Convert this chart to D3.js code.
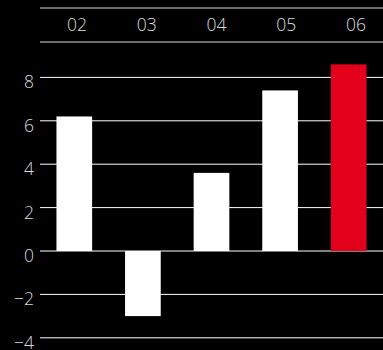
<!DOCTYPE html>
<html>
<head>
<meta charset="utf-8">
<script src="https://cdn.jsdelivr.net/npm/d3@7"></script>
<style>
  body { margin: 0; background: #000; }
  text { font-family: "Open Sans", sans-serif; font-size: 17.5px; font-weight: 300; fill: #dcdcdc; }
</style>
</head>
<body>
<div id="chart"></div>
<script>
// data
var years  = ["02", "03", "04", "05", "06"];
var values = [6.2, -3.0, 3.6, 7.4, 8.6];
var yTicks = [-4, -2, 0, 2, 4, 6, 8];
var highlight = "06";

var width = 383, height = 350;
var left = 40;

var svg = d3.select("#chart").append("svg")
  .attr("width", width)
  .attr("height", height)
  .style("background", "#000");

// Scales
var x = d3.scaleBand()
  .domain(years)
  .range([left, width])
  .paddingInner(0.48)
  .paddingOuter(0.24);

var y = d3.scaleLinear()
  .domain([-4, 8])
  .range([337.8, 77.4]);

// header labels sit a bit off the bar centres
var xLabel = d3.scalePoint()
  .domain(years)
  .range([77, 356]);

// Header lines
svg.append("line")
  .attr("x1", left).attr("x2", width)
  .attr("y1", 8).attr("y2", 8)
  .attr("stroke", "#d9d9d9");

svg.append("line")
  .attr("x1", left).attr("x2", width)
  .attr("y1", 42).attr("y2", 42)
  .attr("stroke", "#d9d9d9");

svg.selectAll(".year")
  .data(years)
  .enter().append("text")
  .attr("class", "year")
  .attr("text-anchor", "middle")
  .attr("x", function(d){ return xLabel(d); })
  .attr("y", 30.5)
  .text(function(d){ return d; });

// Gridlines
svg.selectAll(".grid")
  .data(yTicks)
  .enter().append("line")
  .attr("class", "grid")
  .attr("x1", left).attr("x2", width)
  .attr("y1", function(d){ return y(d); })
  .attr("y2", function(d){ return y(d); })
  .attr("stroke", "#fff")
  .attr("stroke-width", 1);

// Y labels
svg.selectAll(".ylab")
  .data(yTicks)
  .enter().append("text")
  .attr("class", "ylab")
  .attr("text-anchor", "end")
  .attr("x", 34)
  .attr("y", function(d){ return y(d) + 11; })
  .text(function(d){ return d < 0 ? "\u2212" + Math.abs(d) : d; });

// Bars
svg.selectAll(".bar")
  .data(values)
  .enter().append("rect")
  .attr("class", "bar")
  .attr("x", function(d, i){ return x(years[i]); })
  .attr("width", x.bandwidth())
  .attr("y", function(d){ return y(Math.max(0, d)); })
  .attr("height", function(d){ return Math.abs(y(d) - y(0)); })
  .attr("fill", function(d, i){ return years[i] == highlight ? "#e2001a" : "#fff"; });
</script>
</body>
</html>
